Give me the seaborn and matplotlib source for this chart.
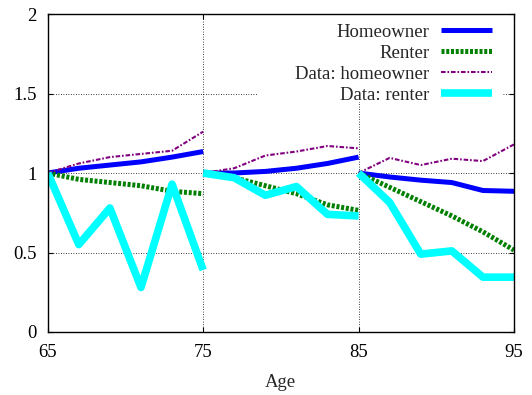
import numpy as np
import pandas as pd
import matplotlib
matplotlib.use('Agg')
import matplotlib.pyplot as plt
import matplotlib.patches as mpatches
import seaborn as sns

# ages for each of the three 10-year windows
seg_ages = [[65, 67, 69, 71, 73, 75],
            [75, 77, 79, 81, 83, 85],
            [85, 87, 89, 91, 93, 95]]

homeowner = [[1.00, 1.03, 1.05, 1.07, 1.10, 1.135],
             [1.00, 1.00, 1.01, 1.03, 1.06, 1.10],
             [1.00, 0.975, 0.955, 0.94, 0.89, 0.885]]
renter = [[1.00, 0.96, 0.94, 0.92, 0.885, 0.87],
          [1.00, 0.97, 0.92, 0.87, 0.80, 0.765],
          [1.00, 0.91, 0.82, 0.73, 0.63, 0.515]]
data_homeowner = [[1.00, 1.06, 1.10, 1.12, 1.14, 1.26],
                  [1.00, 1.03, 1.11, 1.135, 1.17, 1.155],
                  [1.00, 1.095, 1.05, 1.09, 1.075, 1.18]]
data_renter = [[1.00, 0.55, 0.78, 0.28, 0.93, 0.39],
               [1.00, 0.97, 0.86, 0.915, 0.74, 0.73],
               [1.00, 0.815, 0.49, 0.51, 0.345, 0.345]]

series = ['Homeowner', 'Renter', 'Data: homeowner', 'Data: renter']
values = [homeowner, renter, data_homeowner, data_renter]

rows = []
for name, segs in zip(series, values):
    for k, (ages, vals) in enumerate(zip(seg_ages, segs)):
        for a, v in zip(ages, vals):
            rows.append({'series': name, 'segment': k, 'age': a, 'value': v})
df = pd.DataFrame(rows)

styles = {
    'Homeowner': dict(color='#0000ff', lw=3.6, ls='-'),
    'Renter': dict(color='#008000', lw=3.6, ls=(0, (0.6, 0.35))),
    'Data: homeowner': dict(color='#800080', lw=1.5, ls=(0, (2.2, 0.9, 0.8, 0.9))),
    'Data: renter': dict(color='#00ffff', lw=5.5, ls='-'),
}

sns.set_style('ticks')
plt.rcParams['font.family'] = ['Liberation Serif', 'DejaVu Serif']

fig = plt.figure(figsize=(5.32, 3.95), dpi=100)
ax = fig.add_axes([0.0897, 0.1595, 0.8765, 0.805])

for name in series:
    st = styles[name]
    sub = df[df.series == name]
    for k in range(3):
        seg = sub[sub.segment == k]
        line_ax = sns.lineplot(data=seg, x='age', y='value', ax=ax, color=st['color'],
                               linewidth=st['lw'], label=name if k == 0 else None,
                               estimator=None, sort=False)
        ln = line_ax.lines[-1]
        ln.set_linestyle(st['ls'])
        ln.set_dash_capstyle('butt')
        ln.set_solid_capstyle('butt')

ax.set_xlim(65, 95)
ax.set_ylim(0, 2)
ax.set_xticks([65, 75, 85, 95])
ax.set_yticks([0, 0.5, 1, 1.5, 2])
ax.set_yticklabels(['0', '0.5', '1', '1.5', '2'])
ax.tick_params(direction='in', length=3.6, width=0.8, top=True, right=True,
               labelsize=13.5, colors='black')
ax.tick_params(axis='x', pad=9)
ax.tick_params(axis='y', pad=8)
for s in ax.spines.values():
    s.set_linewidth(1.0)
    s.set_color('black')

for x in [75, 85]:
    ax.axvline(x, color='black', lw=0.6, ls=(0, (1, 2)), zorder=0.5)
for y in [0.5, 1, 1.5]:
    ax.axhline(y, color='black', lw=0.6, ls=(0, (1, 2)), zorder=0.5)

# white key area hiding the grid behind the legend
ax.add_patch(mpatches.Rectangle((0.449, 0.723), 0.527, 0.277, transform=ax.transAxes,
                                facecolor='white', edgecolor='none', zorder=1))

ax.set_xlabel('Age', fontsize=13.5, labelpad=9)
ax.set_ylabel('')

leg = ax.legend(loc='upper right', bbox_to_anchor=(0.952, 0.970), markerfirst=False,
                frameon=False, fontsize=13.5, handlelength=2.7, handletextpad=0.62,
                labelspacing=0.21, borderaxespad=0, borderpad=0)
leg.set_zorder(5)

fig.savefig('out.png', dpi=100)
